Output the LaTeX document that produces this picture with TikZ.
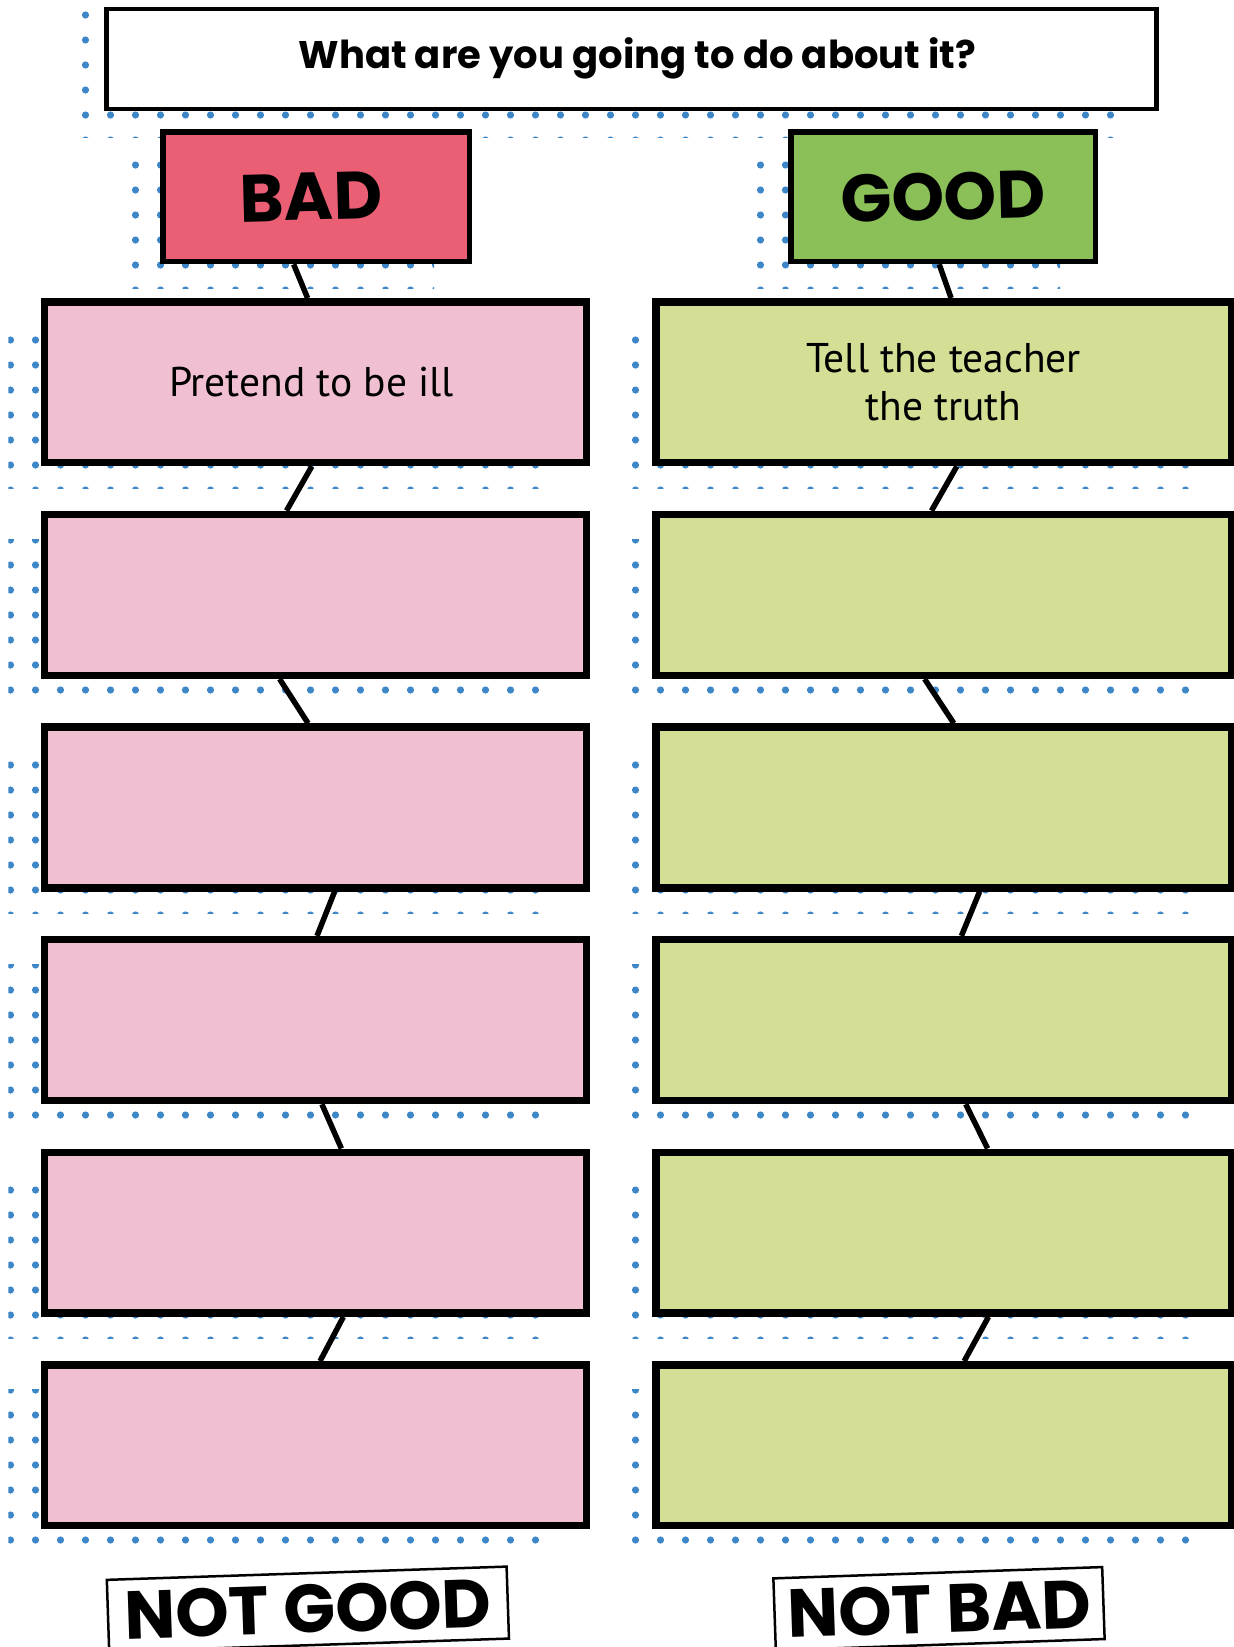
\documentclass[tikz,border=0pt]{standalone}
\usepackage{fontspec}
\usepackage{graphicx}
\newfontfamily\headfont{Poppins}
\newfontfamily\bodyfont{PT Sans}
\definecolor{dotc}{HTML}{3D87C8}
\definecolor{badc}{HTML}{EA5F73}
\definecolor{goodc}{HTML}{8BBF57}
\definecolor{pinkc}{HTML}{F0BFD2}
\definecolor{limec}{HTML}{D4DF95}
\newcommand{\dotregion}[4]{%
  \begin{scope}
    \clip (#1,#2) rectangle (#3,#4);
    \pgfmathtruncatemacro{\ia}{floor((#1-10.5)/25)}%
    \pgfmathtruncatemacro{\ib}{ceil((#3-10.5)/25)}%
    \pgfmathtruncatemacro{\ja}{floor((#2-15)/25)}%
    \pgfmathtruncatemacro{\jb}{ceil((#4-15)/25)}%
    \foreach \i in {\ia,...,\ib} {
      \foreach \j in {\ja,...,\jb} {
        \fill[dotc] ({10.5+25*\i},{15+25*\j}) circle (3.6pt);
      }
    }
  \end{scope}}
\tikzset{
  titlebox/.style={draw=black, fill=white, line width=4.5pt, rectangle, inner sep=0pt,
    minimum width=1050.2pt, minimum height=99.8pt,
    font=\headfont\bfseries\fontsize{38.5}{46}\selectfont},
  headbox/.style={draw=black, line width=5.5pt, rectangle, inner sep=0pt,
    minimum height=129.8pt, font=\headfont\bfseries\fontsize{67}{80}\selectfont},
  leftbox/.style={draw=black, fill=pinkc, line width=7.5pt, rectangle, inner sep=0pt,
    minimum width=541.8pt, minimum height=160.8pt, align=center,
    font=\bodyfont\fontsize{41.5}{48}\selectfont},
  rightbox/.style={leftbox, fill=limec, minimum width=575.5pt},
  link/.style={draw=black, line width=5.5pt},
  stampbox/.style={draw=black, fill=white, line width=2.5pt, rectangle, inner sep=0pt,
    minimum height=72pt, font=\headfont\bfseries\fontsize{68}{80}\selectfont}
}
\begin{document}
\begin{tikzpicture}[x=1pt, y=-1pt]
\useasboundingbox (0,0) rectangle (1234,1647);
\clip (0,0) rectangle (1234,1647);
% dotted shadows
\dotregion{75}{10}{1120}{137.5}
\dotregion{125}{150}{434}{288}
\dotregion{750}{150}{1060}{288}
\foreach \k in {0,...,5} {
  \pgfmathsetmacro{\tp}{298.1+212.6*\k}
  \pgfmathsetmacro{\ya}{\tp+28.3}
  \pgfmathsetmacro{\yb}{\tp+168.3+21.6}
  \dotregion{8.3}{\ya}{545}{\yb}
  \dotregion{625}{\ya}{1195}{\yb}
}
% title
\node[titlebox] (title) at (631.35,58.85) {\hspace*{12pt}What are you going to do about it?};
% positions
\foreach \k in {1,...,6} {
  \pgfmathsetmacro{\cy}{382.25+212.6*(\k-1)}
  \path (315.35,\cy) coordinate (pL\k);
  \path (943.5,\cy) coordinate (pR\k);
}
\path (316.15,196.65) coordinate (pBad);
\path (943,196.65) coordinate (pGood);
% invisible anchor nodes
\node[headbox, minimum width=306.8pt, draw=none] (bad) at (pBad) {};
\node[headbox, minimum width=304.5pt, draw=none] (good) at (pGood) {};
\foreach \k in {1,...,6} {
  \node[leftbox, draw=none, fill=none] (L\k) at (pL\k) {};
  \node[rightbox, draw=none, fill=none] (R\k) at (pR\k) {};
}
% connectors
\draw[link] ([xshift=-22.5pt]bad.south) -- ([xshift=-7.75pt]L1.north);
\draw[link] ([xshift=-3.55pt]L1.south) -- ([xshift=-28.85pt]L2.north);
\draw[link] ([xshift=-35.75pt]L2.south) -- ([xshift=-7.25pt]L3.north);
\draw[link] ([xshift=19.25pt]L3.south) -- ([xshift=1.65pt]L4.north);
\draw[link] ([xshift=6.55pt]L4.south) -- ([xshift=26.05pt]L5.north);
\draw[link] ([xshift=28.05pt]L5.south) -- ([xshift=4.65pt]L6.north);
\draw[link] ([xshift=-3.8pt]good.south) -- ([xshift=7.6pt]R1.north);
\draw[link] ([xshift=13.3pt]R1.south) -- ([xshift=-12pt]R2.north);
\draw[link] ([xshift=-18.9pt]R2.south) -- ([xshift=10.3pt]R3.north);
\draw[link] ([xshift=36.1pt]R3.south) -- ([xshift=17.9pt]R4.north);
\draw[link] ([xshift=22.2pt]R4.south) -- ([xshift=44.1pt]R5.north);
\draw[link] ([xshift=45pt]R5.south) -- ([xshift=20.7pt]R6.north);
% visible boxes
\node[headbox, fill=badc, minimum width=306.8pt] (badbox) at (pBad) {\rotatebox{1.5}{BAD}\hspace*{10pt}};
\node[headbox, fill=goodc, minimum width=304.5pt] (goodbox) at (pGood) {\rotatebox{1.5}{GOOD}};
\node[leftbox] (LB1) at (pL1) {\hspace*{-8pt}Pretend to be ill};
\node[rightbox] (RB1) at (pR1) {Tell the teacher\\the truth};
\foreach \k in {2,...,6} {
  \node[leftbox] (LB\k) at (pL\k) {};
  \node[rightbox] (RB\k) at (pR\k) {};
}
% stamps
\node[stampbox, rotate=1.9, minimum width=400pt] (notgood) at (307.9,1609.2) {NOT GOOD};
\node[stampbox, rotate=1.97, minimum width=329pt] (notbad) at (939,1608.7) {NOT BAD};
\end{tikzpicture}
\end{document}
